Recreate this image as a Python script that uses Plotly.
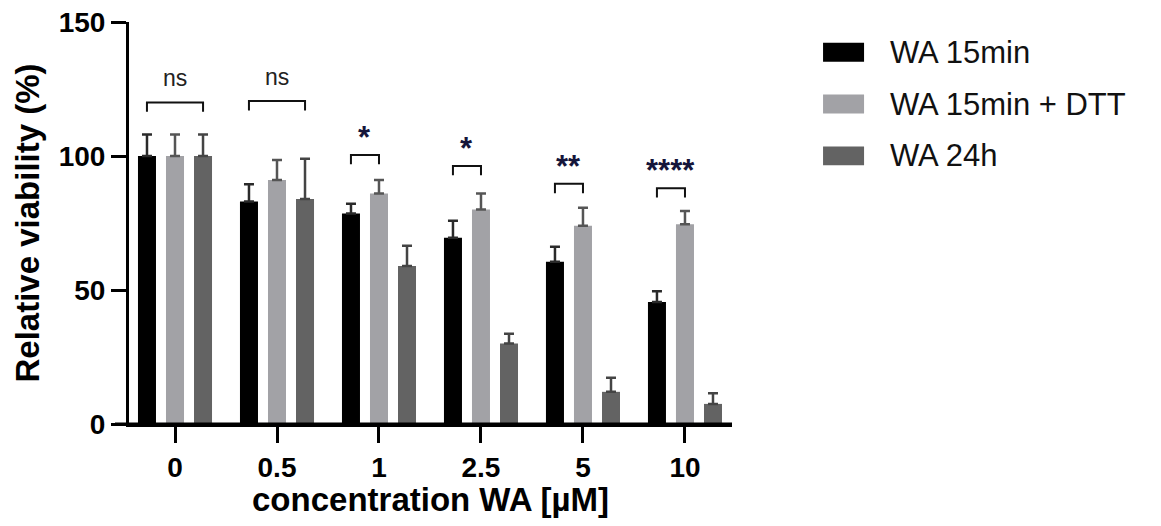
import plotly.graph_objects as go

categories = ["0", "0.5", "1", "2.5", "5", "10"]
series_names = ["WA 15min", "WA 15min + DTT", "WA 24h"]
wa15 = [100, 83, 78.5, 69.5, 60.5, 45.5]
wa15_err = [8, 6.5, 3.7, 6.3, 5.6, 4]
wa15dtt = [100, 91, 86, 80, 74, 74.5]
wa15dtt_err = [8, 7.5, 5, 6, 6.7, 5]
wa24 = [100, 84, 59, 30, 12, 7.5]
wa24_err = [8, 15, 7.5, 3.7, 5.3, 4]

# significance brackets: (group index, from series, to series, bracket y, label)
sig_groups = [0, 1, 2, 3, 4, 5]
sig_from = [0, 0, 0, 0, 0, 0]
sig_to = [2, 2, 1, 1, 1, 1]
sig_y = [120, 120.5, 100.4, 96.3, 89.6, 88]
sig_labels = ["ns", "ns", "*", "*", "**", "****"]

colors = ["#000000", "#a2a2a6", "#636363"]
values = [wa15, wa15dtt, wa24]
errors = [wa15_err, wa15dtt_err, wa24_err]
err_colors = ["#2a2a2a", "#555555", "#444444"]

FONT = "Liberation Sans, Arial, sans-serif"

fig = go.Figure()
for name, v, e, c, ec in zip(series_names, values, errors, colors, err_colors):
    fig.add_trace(go.Bar(
        x=categories, y=v, name=name, marker_color=c, marker_line_width=0,
        error_y=dict(type="data", array=e, arrayminus=[0] * len(e), symmetric=False,
                     color=ec, thickness=2.5, width=5),
        showlegend=False,
    ))

slot_offset = 0.275
shapes = []
annotations = []
for g, a, b, yv, lab in zip(sig_groups, sig_from, sig_to, sig_y, sig_labels):
    x0 = g + (a - 1) * slot_offset
    x1 = g + (b - 1) * slot_offset
    leg = 3.5
    shapes.append(dict(type="path", xref="x", yref="y",
                       path=f"M {x0},{yv-leg} L {x0},{yv} L {x1},{yv} L {x1},{yv-leg}",
                       line=dict(color="#111111", width=2)))
    if lab == "ns":
        annotations.append(dict(x=(x0 + x1) / 2, y=yv + 9, xref="x", yref="y", text=lab,
                                showarrow=False, font=dict(family=FONT, size=23, color="#222222")))
    else:
        annotations.append(dict(x=(x0 + x1) / 2, y=yv + 6.5, xref="x", yref="y", text=lab,
                                showarrow=False,
                                font=dict(family=FONT, size=31, color="#15153a", weight="bold")))

# extend x axis line slightly left of the y axis (GraphPad style)
shapes.append(dict(type="line", xref="paper", yref="paper", x0=-0.0232, x1=1.0, y0=0, y1=0,
                   line=dict(color="black", width=3)))

# custom legend with large swatches
leg_y = [0.925, 0.796, 0.667]
for name, c, ly in zip(series_names, colors, leg_y):
    shapes.append(dict(type="rect", xref="paper", yref="paper", x0=1.151, x1=1.219,
                       y0=ly - 0.0236, y1=ly + 0.0236, fillcolor=c, line=dict(width=0)))
    annotations.append(dict(x=1.259, y=ly, xref="paper", yref="paper", text=name,
                            xanchor="left", yanchor="middle", showarrow=False,
                            font=dict(family=FONT, size=31, color="#111111")))

# page body has an 8px margin; size the figure so it fills the window exactly
fig.update_layout(
    width=1145, height=510, autosize=False,
    margin=dict(l=121, r=421, t=14, b=94),
    paper_bgcolor="white", plot_bgcolor="white",
    barmode="group", bargap=0.176, bargroupgap=0.357,
    shapes=shapes, annotations=annotations,
    font=dict(family=FONT, color="black"),
)
fig.update_xaxes(
    type="category", range=[-0.451, 5.461],
    showline=True, linecolor="black", linewidth=3,
    ticks="outside", ticklen=16, tickwidth=3, tickcolor="black",
    tickfont=dict(family=FONT, size=28, color="black", weight="bold"),
    ticklabeloverflow="allow",
    title=dict(text="concentration WA [µM]", standoff=8,
               font=dict(family=FONT, size=33, color="black", weight="bold")),
    showgrid=False, zeroline=False, automargin=False,
)
fig.update_yaxes(
    range=[0, 150], tickvals=[0, 50, 100, 150],
    showline=True, linecolor="black", linewidth=3,
    ticks="outside", ticklen=15, tickwidth=3, tickcolor="black",
    tickfont=dict(family=FONT, size=28, color="black", weight="bold"),
    ticklabeloverflow="allow",
    title=dict(text="Relative viability (%)", standoff=10,
               font=dict(family=FONT, size=33, color="black", weight="bold")),
    showgrid=False, zeroline=False, automargin=False,
)

fig.write_html("out.html")
